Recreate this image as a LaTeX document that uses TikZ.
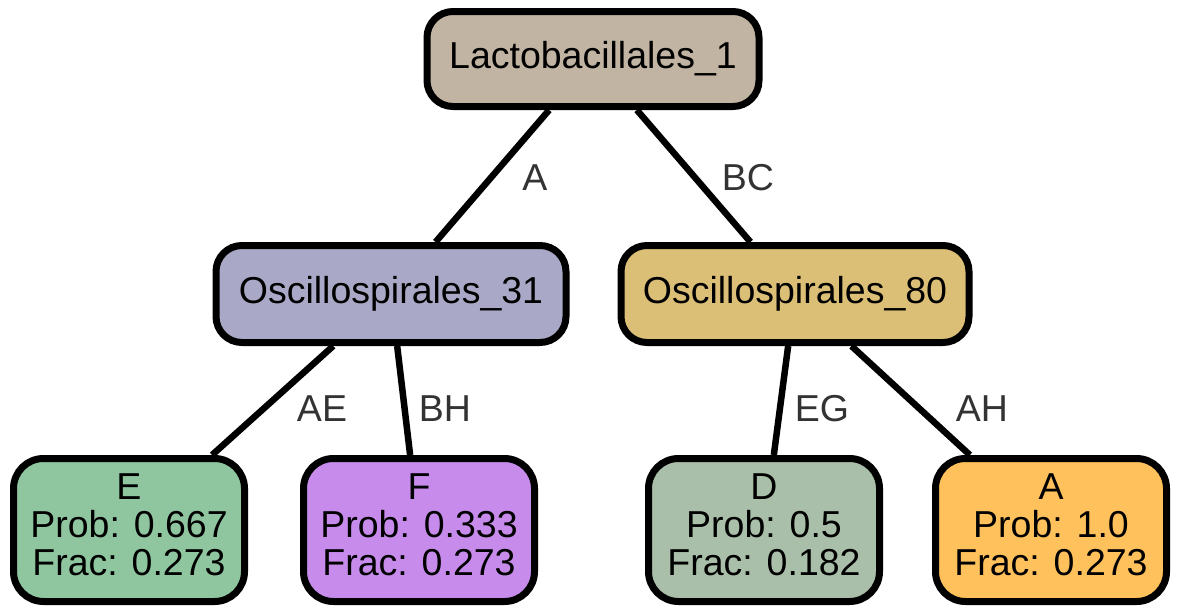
\documentclass[tikz,border=0pt]{standalone}
\usepackage{fontspec}
\setmainfont{Liberation Sans}
\definecolor{cLacto}{HTML}{C2B4A3}
\definecolor{cOA}{HTML}{A9A9C7}
\definecolor{cOB}{HTML}{DCBF76}
\definecolor{cE}{HTML}{8FC6A0}
\definecolor{cF}{HTML}{C78CEB}
\definecolor{cD}{HTML}{A9BFA9}
\definecolor{cA}{HTML}{FFC15B}
\definecolor{lblgray}{HTML}{333333}
\tikzset{
  box/.style={draw=black, line width=7pt, rounded corners=26pt, inner sep=0pt,
    font=\fontsize{37.5}{38}\selectfont, align=center},
  topbox/.style={box, minimum height=95pt},
  leafbox/.style={box, minimum width=231pt, minimum height=143pt, rounded corners=30pt, text depth=10pt},
  edge/.style={draw=black, line width=6.5pt},
  lbl/.style={text=lblgray, font=\fontsize{37.5}{38}\selectfont, inner sep=0pt}
}
\begin{document}
\begin{tikzpicture}[x=1pt,y=-1pt]
\useasboundingbox (0,0) rectangle (1179,613);
\node[topbox, fill=cLacto, minimum width=332pt] (L) at (593,59) {Lactobacillales\_1};
\node[topbox, fill=cOA, minimum width=350pt, minimum height=97pt] (O31) at (391,294) {Oscillospirales\_31};
\node[topbox, fill=cOB, minimum width=348pt, minimum height=97pt] (O80) at (795,294) {Oscillospirales\_80};
\node[leafbox, fill=cE] (E) at (129,530) {E\\Prob: 0.667\\Frac: 0.273};
\node[leafbox, fill=cF] (F) at (419,530) {F\\Prob: 0.333\\Frac: 0.273};
\node[leafbox, fill=cD] (D) at (764,530) {D\\Prob: 0.5\\Frac: 0.182};
\node[leafbox, fill=cA] (A) at (1051,530) {A\\Prob: 1.0\\Frac: 0.273};
\draw[edge] (L) -- (O31);
\draw[edge] (L) -- (O80);
\draw[edge] (O31) -- (E);
\draw[edge] (O31) -- (F);
\draw[edge] (O80) -- (D);
\draw[edge] (O80) -- (A);
\node[lbl] (lA) at (535,178) {A};
\node[lbl] (lBC) at (748,178) {BC};
\node[lbl] (lAE) at (322,409) {AE};
\node[lbl] (lBH) at (445,409) {BH};
\node[lbl] (lEG) at (822,409) {EG};
\node[lbl] (lAH) at (982,409) {AH};
\end{tikzpicture}
\end{document}
